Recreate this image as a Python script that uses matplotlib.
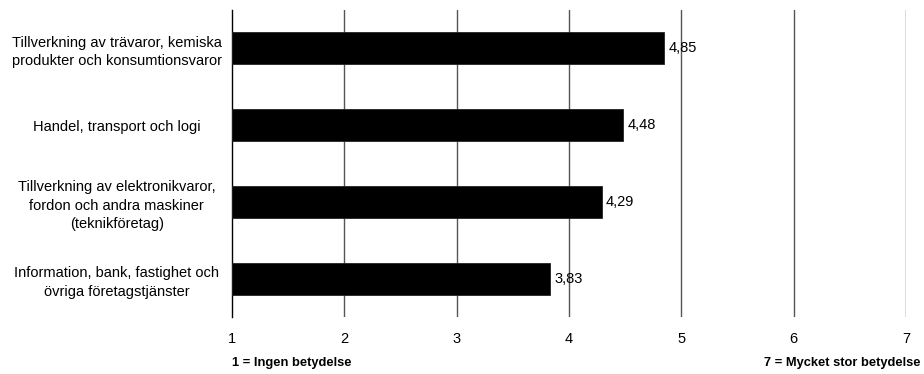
import matplotlib
matplotlib.use("Agg")
import matplotlib.pyplot as plt

categories = [
    "Tillverkning av trävaror, kemiska\nprodukter och konsumtionsvaror",
    "Handel, transport och logi",
    "Tillverkning av elektronikvaror,\nfordon och andra maskiner\n(teknikföretag)",
    "Information, bank, fastighet och\növriga företagstjänster",
]
values = [4.85, 4.48, 4.29, 3.83]
value_labels = ["4,85", "4,48", "4,29", "3,83"]
xticks = [1, 2, 3, 4, 5, 6, 7]
note_low = "1 = Ingen betydelse"
note_high = "7 = Mycket stor betydelse"

plt.rcParams["font.family"] = ["Liberation Sans", "DejaVu Sans"]

fig = plt.figure(figsize=(9.24, 3.74), dpi=100)
ax = fig.add_axes([232 / 924, 1 - 317 / 374, (906 - 232) / 924, (317 - 10) / 374])

ypos = list(range(len(categories)))
ax.barh(ypos, [v - 1 for v in values], left=1, height=0.42, color="black",
        edgecolor="#222222", linewidth=0.6, zorder=3)
for y, v, lab in zip(ypos, values, value_labels):
    ax.text(v + 0.04, y, lab, va="center", ha="left", fontsize=10.5, zorder=4)

ax.set_xlim(1, 7)
ax.set_ylim(len(categories) - 0.5, -0.5)
ax.set_yticks(ypos)
ax.set_yticklabels(categories, fontsize=10.5, ha="center", multialignment="center",
                   linespacing=1.4)
ax.tick_params(axis="y", length=0, pad=83)
ax.set_xticks(xticks)
ax.set_xticklabels([str(t) for t in xticks], fontsize=10.5)
ax.tick_params(axis="x", length=0, pad=11)

for t in xticks[1:]:
    ax.axvline(t, color="#555555", linewidth=1.0, zorder=1)
for s in ["top", "right", "bottom"]:
    ax.spines[s].set_visible(False)
ax.spines["left"].set_color("black")
ax.spines["left"].set_linewidth(1.0)

fig.text(232 / 924, 1 - 363 / 374, note_low, fontsize=9.3, fontweight="bold",
         ha="left", va="center")
fig.text(920 / 924, 1 - 363 / 374, note_high, fontsize=9.3, fontweight="bold",
         ha="right", va="center")

fig.savefig("out.png", dpi=100)
